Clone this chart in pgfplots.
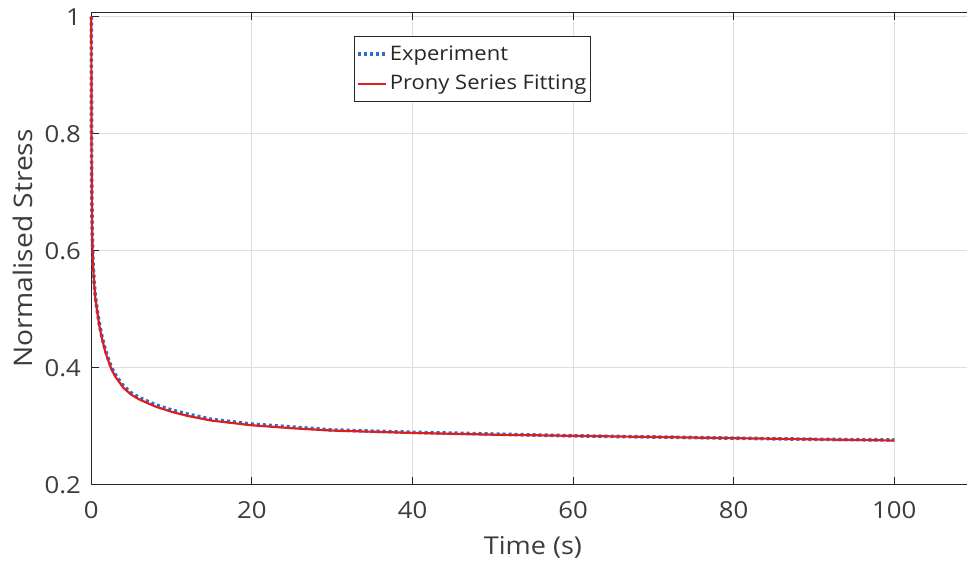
\documentclass[border=0pt]{standalone}
\usepackage{fontspec}
\setmainfont{Open Sans}[FakeStretch=1.1]
\usepackage{pgfplots}
\pgfplotsset{compat=1.18}
\definecolor{expblue}{RGB}{45,110,200}
\definecolor{fitred}{RGB}{220,30,30}
\definecolor{axgray}{RGB}{38,38,38}
\definecolor{txtgray}{RGB}{60,60,60}

\begin{document}
\begin{tikzpicture}
\begin{axis}[
  scale only axis, width=441.65pt, height=236.35pt,
  xmin=0, xmax=110, ymin=0.2, ymax=1.0075,
  xtick={0,20,40,60,80,100}, ytick={0.2,0.4,0.6,0.8,1},
  /pgf/number format/assume math mode=true,
  tick align=inside, major tick length=4pt,
  tick style={axgray, line width=0.5pt},
  axis line style={axgray, line width=0.5pt},
  grid=major, grid style={black!13, line width=0.5pt},
  ticklabel style={font=\fontsize{11.7}{14}\selectfont, text=txtgray},
  xticklabel style={anchor=base, yshift=-16.5pt},
  yticklabel style={anchor=east, inner sep=0pt, xshift=-5pt},
  every axis x label/.style={at={(axis description cs:0.5,-0.148)}, anchor=base,
    font=\fontsize{12.3}{14}\selectfont, text=txtgray},
  every axis y label/.style={at={(axis description cs:-0.0775,0.5)}, rotate=90, anchor=center,
    font=\fontsize{12.8}{14}\selectfont, text=txtgray},
  xlabel={Time (s)}, ylabel={Normalised Stress},
  clip=false,
  legend cell align=left,
  legend image code/.code={\draw[#1] (0pt,0pt) -- (14pt,0pt);},
  legend style={at={(rel axis cs:0.2977,0.9499)}, anchor=north west,
    draw=axgray, line width=0.4pt, fill=white,
    font=\fontsize{10}{12}\selectfont, text=axgray,
    inner xsep=1pt, inner ysep=2.5pt, row sep=2pt,
    nodes={inner xsep=0.8pt}},
]
\addplot[expblue, line width=1.8pt, dash pattern=on 1.5pt off 1.5pt]
  coordinates {(0,1.0)(0.02,0.85)(0.05,0.72)(0.1,0.642)(0.2,0.582)(0.35,0.547)
  (0.5,0.522)(0.75,0.497)(1.0,0.475)(1.3,0.455)(1.7,0.433)(2.0,0.420)(2.5,0.401)
  (3.0,0.388)(4.0,0.369)(5.0,0.357)(6.0,0.349)(8.0,0.337)(10,0.328)(12,0.321)
  (15,0.312)(20,0.304)(25,0.299)(30,0.294)(40,0.290)(50,0.287)(60,0.284)
  (70,0.282)(80,0.280)(90,0.278)(100,0.277)};
\addlegendentry{Experiment}
\addplot[fitred, line width=1.1pt]
  coordinates {(0,1.0)(0.02,0.85)(0.05,0.72)(0.1,0.64)(0.2,0.58)(0.35,0.545)
  (0.5,0.52)(0.75,0.495)(1.0,0.472)(1.3,0.452)(1.7,0.43)(2.0,0.417)(2.5,0.398)
  (3.0,0.385)(4.0,0.366)(5.0,0.354)(6.0,0.346)(8.0,0.334)(10,0.325)(12,0.318)
  (15,0.310)(20,0.302)(25,0.297)(30,0.293)(40,0.289)(50,0.286)(60,0.284)
  (70,0.282)(80,0.280)(90,0.278)(100,0.276)};
\addlegendentry{Prony Series Fitting}
\end{axis}
\pgfresetboundingbox
\path (current axis.south west) ++(-45.65pt,-40.5pt) rectangle ([shift={(437.85pt,6.15pt)}]current axis.north west);
\end{tikzpicture}
\end{document}
